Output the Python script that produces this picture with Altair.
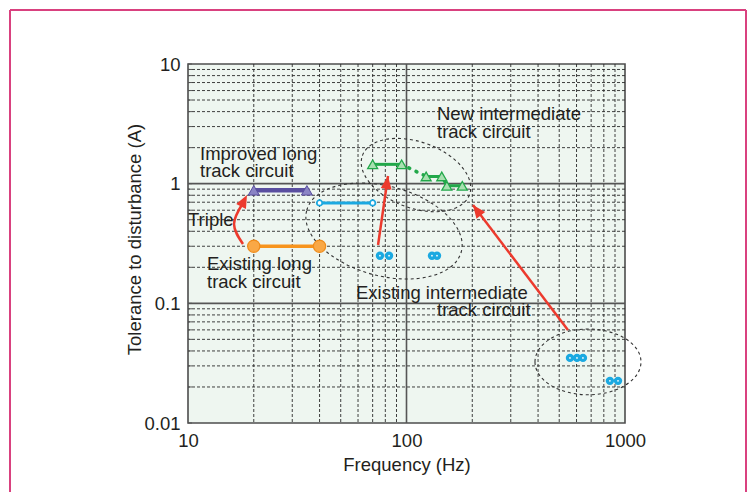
import altair as alt
import pandas as pd

# ---------------- data ----------------
x_ticks = [10, 100, 1000]
y_ticks = [0.01, 0.1, 1, 10]
x_minor = [20, 30, 40, 50, 60, 70, 80, 90, 200, 300, 400, 500, 600, 700, 800, 900]
y_minor = [0.02, 0.03, 0.04, 0.05, 0.06, 0.07, 0.08, 0.09,
           0.2, 0.3, 0.4, 0.5, 0.6, 0.7, 0.8, 0.9,
           2, 3, 4, 5, 6, 7, 8, 9]
x_major = [100]
y_major = [0.1, 1]

# Existing long track circuit
long_old_f = [20, 40]
long_old_t = [0.3, 0.3]
# Improved long track circuit
long_new_f = [20, 35]
long_new_t = [0.88, 0.88]
# Existing intermediate track circuit (range)
inter_line_f = [40, 70]
inter_line_t = [0.69, 0.69]
# Existing intermediate track circuit (points)
inter_pts_f = [75.6, 83.2, 130.8, 137.9, 560, 603, 642, 853, 929]
inter_pts_t = [0.25, 0.25, 0.25, 0.25, 0.035, 0.035, 0.035, 0.0225, 0.0225]
# New intermediate track circuit
new_f = [70, 95, 123, 145, 153, 180]
new_t = [1.45, 1.45, 1.15, 1.15, 0.96, 0.96]
new_solid_groups = [[0, 1], [2, 3, 4, 5]]
new_dotted = [1, 2]

# annotation texts
labels = ["Improved long", "track circuit", "Triple", "Existing long", "track circuit",
          "Existing intermediate", "track circuit", "New intermediate", "track circuit"]
label_f = [11.35, 11.35, 10.0, 12.22, 12.22, 58.7, 137.9, 137.9, 137.9]
label_t = [1.577, 1.137, 0.443, 0.19, 0.1343, 0.1087, 0.0784, 3.437, 2.43]

# dashed ellipses (centres)
ell_f = [78.9, 110.5, 677]
ell_t = [0.402, 1.18, 0.0324]
ell_semi = [80, 57, 53]
ell_ratio = [0.56, 0.58, 0.62]
ell_angle = [15, 20, 0]

# arrows
curve_f = [17.85, 16.24, 17.85]
curve_t = [0.313, 0.46, 0.689]
arrow_start_f = [74.1, 548]
arrow_start_t = [0.307, 0.0599]
arrow_tip_f = [82.3, 201.5]
arrow_tip_t = [1.159, 0.6634]
head_f = [18.62, 82.3, 201.5]
head_t = [0.804, 1.159, 0.6634]
head_angle = [27, 8, 323]

# ---------------- styling ----------------
FONT = "Liberation Sans"
TXT = "#231f20"
RED = "#ec3a2d"
W, H = 437, 359

xs = alt.Scale(type="log", domain=[10, 1000], nice=False)
ys = alt.Scale(type="log", domain=[0.01, 10], nice=False)
xaxis = alt.Axis(values=x_ticks, format="~g", grid=False, ticks=False, tickSize=0, domain=False,
                 labelFlush=False, labelPadding=8, labelFontSize=18.5, labelFont=FONT,
                 labelColor=TXT, title="Frequency (Hz)", titleFontSize=18.5, titleFont=FONT,
                 titleFontWeight="normal", titleColor=TXT, titleBaseline="alphabetic",
                 titleY=47, titleX=W / 2)
yaxis = alt.Axis(values=y_ticks, format="~g", grid=False, ticks=False, tickSize=0, domain=False,
                 labelFlush=False, labelPadding=8, labelFontSize=18.5, labelFont=FONT,
                 labelColor=TXT, title="Tolerance to disturbance (A)", titleFontSize=18.5,
                 titleFont=FONT, titleFontWeight="normal", titleColor=TXT,
                 titleBaseline="bottom", titleX=-44, titleY=175, titleAngle=270)


def X(field="f"):
    return alt.X(f"{field}:Q", scale=xs, axis=xaxis)


def Y(field="t"):
    return alt.Y(f"{field}:Q", scale=ys, axis=yaxis)


def ellipse_path(r):
    k = 0.5523
    return (f"M -1 0 C -1 {-r*k:.4f} {-k:.4f} {-r:.4f} 0 {-r:.4f} "
            f"C {k:.4f} {-r:.4f} 1 {-r*k:.4f} 1 0 "
            f"C 1 {r*k:.4f} {k:.4f} {r:.4f} 0 {r:.4f} "
            f"C {-k:.4f} {r:.4f} -1 {r*k:.4f} -1 0 Z")


ARROWHEAD = "M 0 0 L 0.42 1 L -0.42 1 Z"

layers = []

# grid
layers.append(alt.Chart(pd.DataFrame({"f": x_minor})).mark_rule(
    color="#2a2a2a", strokeWidth=0.9, strokeDash=[3, 2]).encode(x=X()))
layers.append(alt.Chart(pd.DataFrame({"t": y_minor})).mark_rule(
    color="#2a2a2a", strokeWidth=0.9, strokeDash=[3, 2]).encode(y=Y()))
layers.append(alt.Chart(pd.DataFrame({"f": x_major})).mark_rule(
    color="#555", strokeWidth=1.6).encode(x=X()))
layers.append(alt.Chart(pd.DataFrame({"t": y_major})).mark_rule(
    color="#555", strokeWidth=1.6).encode(y=Y()))
# small inward ticks on left axis
layers.append(alt.Chart(pd.DataFrame({"t": y_minor + y_ticks})).mark_rule(
    color="#555", strokeWidth=1).encode(y=Y(), x=alt.value(0), x2=alt.value(4)))

# ellipses
for i in range(len(ell_f)):
    layers.append(alt.Chart(pd.DataFrame({"f": [ell_f[i]], "t": [ell_t[i]]})).mark_point(
        shape=ellipse_path(ell_ratio[i]), size=(2 * ell_semi[i]) ** 2, angle=ell_angle[i],
        filled=False, stroke="#333", strokeWidth=1.1, strokeDash=[3, 3], opacity=1
    ).encode(x=X(), y=Y()))

# existing long
df_lo = pd.DataFrame({"f": long_old_f, "t": long_old_t})
layers.append(alt.Chart(df_lo).mark_line(color="#f7941d", strokeWidth=3.5).encode(x=X(), y=Y()))
layers.append(alt.Chart(df_lo).mark_point(filled=True, size=150, fill="#f9a846", stroke="#f08c1a",
                                          strokeWidth=1.2, opacity=1).encode(x=X(), y=Y()))
# improved long
df_ln = pd.DataFrame({"f": long_new_f, "t": long_new_t})
layers.append(alt.Chart(df_ln).mark_line(color="#5a4fa0", strokeWidth=4.5).encode(x=X(), y=Y()))
layers.append(alt.Chart(df_ln).mark_point(shape="triangle-up", filled=True, size=120, fill="#8a84c4",
                                          stroke="#5a4fa0", strokeWidth=1, opacity=1).encode(x=X(), y=Y()))
# existing intermediate range
df_il = pd.DataFrame({"f": inter_line_f, "t": inter_line_t})
layers.append(alt.Chart(df_il).mark_line(color="#1ba9e1", strokeWidth=3).encode(x=X(), y=Y()))
layers.append(alt.Chart(df_il).mark_point(filled=True, size=30, fill="white", stroke="#1ba9e1",
                                          strokeWidth=1.8, opacity=1).encode(x=X(), y=Y()))
# existing intermediate points
df_ip = pd.DataFrame({"f": inter_pts_f, "t": inter_pts_t})
layers.append(alt.Chart(df_ip).mark_point(filled=True, size=70, color="#1ba9e1", opacity=1).encode(x=X(), y=Y()))
layers.append(alt.Chart(df_ip).mark_point(filled=True, size=3, color="white", opacity=1).encode(x=X(), y=Y()))

# new intermediate
rows = []
for g, idx in enumerate(new_solid_groups):
    for j, i in enumerate(idx):
        rows.append({"f": new_f[i], "t": new_t[i], "g": g, "o": j})
layers.append(alt.Chart(pd.DataFrame(rows)).mark_line(color="#22a84a", strokeWidth=3).encode(
    x=X(), y=Y(), detail="g:N", order="o:Q"))
df_nd = pd.DataFrame({"f": [new_f[i] for i in new_dotted], "t": [new_t[i] for i in new_dotted]})
layers.append(alt.Chart(df_nd).mark_line(color="#22a84a", strokeWidth=3.5, strokeDash=[1, 7],
                                         strokeCap="round").encode(x=X(), y=Y()))
df_new = pd.DataFrame({"f": new_f, "t": new_t})
layers.append(alt.Chart(df_new).mark_point(shape="triangle-up", filled=True, size=100, fill="#a8e0b0",
                                           stroke="#22a84a", strokeWidth=1.3, opacity=1).encode(x=X(), y=Y()))

# arrows
df_curve = pd.DataFrame({"f": curve_f, "t": curve_t, "o": list(range(len(curve_f)))})
layers.append(alt.Chart(df_curve).mark_line(color=RED, strokeWidth=2.5, interpolate="natural").encode(
    x=X(), y=Y(), order="o:Q"))
df_arr = pd.DataFrame({"f": arrow_start_f, "t": arrow_start_t, "f2": arrow_tip_f, "t2": arrow_tip_t})
layers.append(alt.Chart(df_arr).mark_rule(color=RED, strokeWidth=2.5).encode(
    x=X(), y=Y(), x2="f2:Q", y2="t2:Q"))
for i in range(len(head_f)):
    layers.append(alt.Chart(pd.DataFrame({"f": [head_f[i]], "t": [head_t[i]]})).mark_point(
        shape=ARROWHEAD, size=676, angle=head_angle[i], filled=True, color=RED, opacity=1
    ).encode(x=X(), y=Y()))

# texts
df_txt = pd.DataFrame({"f": label_f, "t": label_t, "label": labels})
layers.append(alt.Chart(df_txt).mark_text(align="left", baseline="alphabetic", font=FONT,
                                          fontSize=18.5, color=TXT).encode(x=X(), y=Y(), text="label:N"))

# pink frame around the figure
one = pd.DataFrame({"k": [0]})
layers.append(alt.Chart(one).mark_rule(color="#d9417f", strokeWidth=2).encode(
    x=alt.value(-178), y=alt.value(-54), y2=alt.value(430)))
layers.append(alt.Chart(one).mark_rule(color="#d9417f", strokeWidth=2).encode(
    x=alt.value(558), y=alt.value(-54), y2=alt.value(430)))
layers.append(alt.Chart(one).mark_rule(color="#d9417f", strokeWidth=2).encode(
    x=alt.value(-178), x2=alt.value(558), y=alt.value(-54)))

chart = alt.layer(*layers).properties(
    width=W, height=H,
    autosize=alt.AutoSizeParams(type="none"),
    padding={"left": 180, "top": 56, "right": 123, "bottom": 69},
    background="white",
).configure_view(fill="#eef6f0", stroke="#4d4d4d", strokeWidth=1.6)

chart.save("out.html", embed_options={"renderer": "svg", "actions": False})
